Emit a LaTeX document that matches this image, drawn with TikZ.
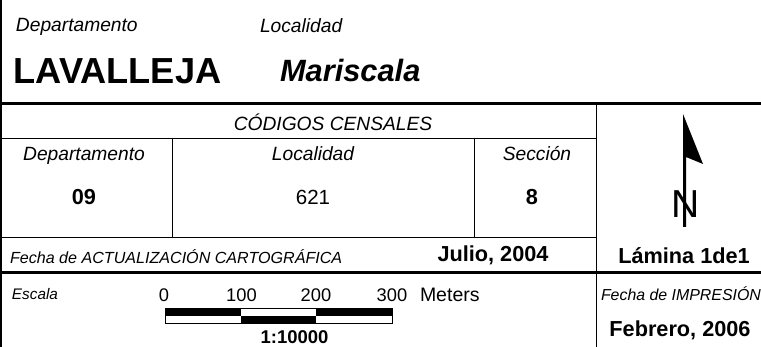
\documentclass[tikz,border=0pt]{standalone}
\usepackage{fontspec}
\setmainfont{Liberation Sans}
\newcommand{\fs}[1]{\fontsize{#1}{#1}\selectfont}
\tikzset{
  lbl/.style={inner sep=0pt,outer sep=0pt,anchor=base,text=black,yshift=-1pt},
  lblw/.style={lbl,anchor=base west},
  ital/.style={font=\fs{19.2}\itshape},
  heavy/.style={font=\fs{21.7}\bfseries},
  thin rule/.style={draw=black,line width=.9pt},
  thick rule/.style={draw=black,line width=3pt},
}
\begin{document}
\begin{tikzpicture}[x=1pt,y=-1pt]
\useasboundingbox (0,0) rectangle (761,347);
\fill[white] (0,0) rectangle (761,347);
% rules
\draw[draw=black,line width=2.2pt] (1,0) -- (1,347);
\draw[thick rule] (0,103.5) -- (761,103.5);
\draw[thick rule] (0,273) -- (761,273);
\draw[thin rule] (0,138.5) -- (596,138.5);
\draw[thin rule] (0,237) -- (596,237);
\draw[thin rule] (596,103) -- (596,347);
\draw[thin rule] (172,138.5) -- (172,237);
\draw[thin rule] (474,138.5) -- (474,237);
% header
\node[lblw,ital] (dep) at (16,31) {Departamento};
\node[lblw,ital] (loc) at (260,32) {Localidad};
\node[lblw,font=\fs{36.2}\bfseries] (lav) at (13.5,83) {LAVALLEJA};
\node[lblw,font=\fs{30.8}\bfseries\itshape] (mar) at (280,81) {Mariscala};
% census codes
\node[lbl,ital] (cod) at (333,130) {CÓDIGOS CENSALES};
\node[lbl,ital] (dep2) at (84,160) {Departamento};
\node[lbl,ital] (loc2) at (313,160) {Localidad};
\node[lbl,ital] (sec) at (537,160) {Sección};
\node[lbl,heavy] (n09) at (84,204) {09};
\node[lbl,font=\fs{20.5}] (n621) at (313,204) {621};
\node[lbl,heavy] (n8) at (532,204) {8};
\node[lblw,font=\fs{16.1}\itshape] (fa) at (10,263) {Fecha de ACTUALIZACIÓN CARTOGRÁFICA};
\node[lbl,heavy] (jul) at (493,261) {Julio, 2004};
% north arrow
\fill[black] (683,114) -- (703,164) -- (686,157) -- (686,227) -- (683,227) -- cycle;
\node[lbl,font=\fs{39}] (north) at (685.5,217) {N};
\node[lbl,heavy] (lam) at (684,263) {Lámina 1de1};
\node[lblw,font=\fs{15.9}\itshape] (fi) at (601,300) {Fecha de IMPRESIÓN};
\node[lbl,heavy] (feb) at (680,336) {Febrero, 2006};
% scale
\node[lblw,font=\fs{15.3}\itshape] (esc) at (12,299) {Escala};
\node[lbl,font=\fs{18.3}] (s0) at (164,301) {0};
\node[lbl,font=\fs{18.3}] (s1) at (241.5,301) {100};
\node[lbl,font=\fs{18.3}] (s2) at (316,301) {200};
\node[lbl,font=\fs{18.3}] (s3) at (392,301) {300};
\node[lblw,font=\fs{19.5}] (m) at (420,301) {Meters};
\fill[black] (165,308) rectangle (241,316);
\fill[black] (316,308) rectangle (392,316);
\fill[black] (241,316) rectangle (316,323);
\draw[black,line width=.7pt] (165,308) rectangle (392,323);
\node[lbl,font=\fs{18.5}\bfseries] (ratio) at (294.5,343) {1:10000};
\end{tikzpicture}
\end{document}
